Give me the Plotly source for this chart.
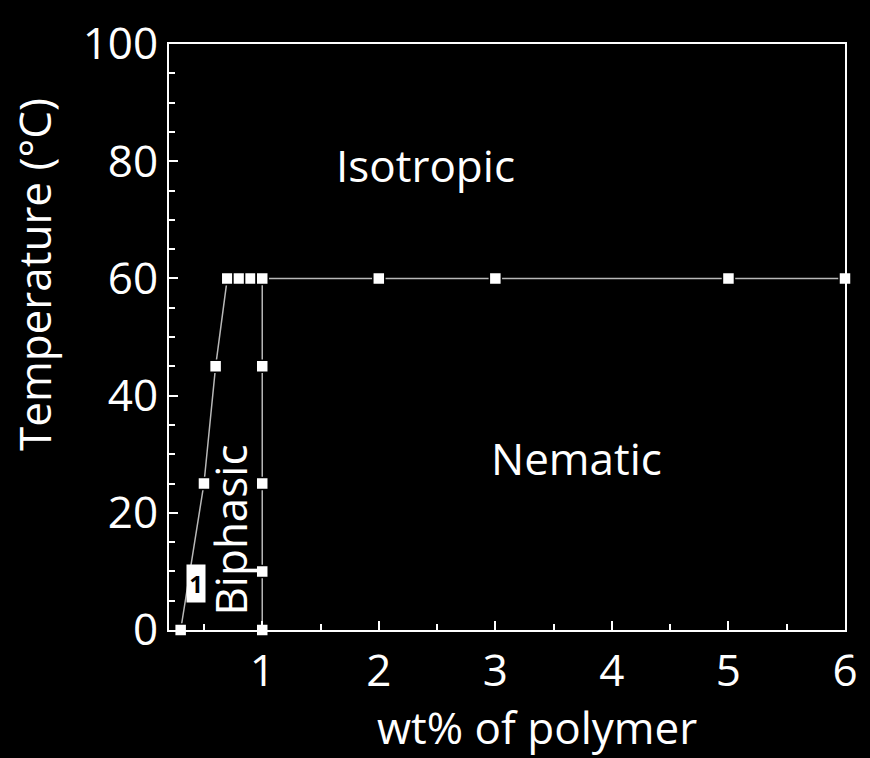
import plotly.graph_objects as go

# Phase boundary data (wt% of polymer, temperature °C)
left_x = [0.3, 0.5, 0.6, 0.7]
left_y = [0, 25, 45, 60]
top_x = [0.7, 0.8, 0.9, 1.0, 2, 3, 5, 6]
top_y = [60, 60, 60, 60, 60, 60, 60, 60]
right_x = [1, 1, 1, 1, 1]
right_y = [0, 10, 25, 45, 60]

x_ticks = [1, 2, 3, 4, 5, 6]
y_ticks = [0, 20, 40, 60, 80, 100]

FONT = "Open Sans"
FS = 44
LINE_COL = "#b8b8b8"

fig = go.Figure()
for xs, ys in [(left_x, left_y), (top_x, top_y), (right_x, right_y)]:
    fig.add_trace(go.Scatter(
        x=xs, y=ys, mode="lines+markers",
        line=dict(color=LINE_COL, width=1.5),
        marker=dict(symbol="square", size=12, color="white",
                    line=dict(color="black", width=1.5)),
        cliponaxis=False, showlegend=False, hoverinfo="skip"))

annots = [
    dict(x=2.4, y=79.3, text="Isotropic"),
    dict(x=3.70, y=29.4, text="Nematic"),
    dict(x=0.725, y=17.0, text="Biphasic", textangle=-90),
]
for a in annots:
    fig.add_annotation(xref="x", yref="y", showarrow=False,
                       xanchor="center", yanchor="middle",
                       font=dict(family=FONT, size=FS, color="white"), **a)

# small boxed label "1"
fig.add_annotation(x=0.435, y=8, xref="x", yref="y", text="<b>1</b>", showarrow=False,
                   xanchor="center", yanchor="middle",
                   font=dict(family=FONT, size=24, color="black"),
                   bgcolor="white", width=14, height=33, borderpad=2)

# axis titles
fig.add_annotation(x=33, y=272, xref="paper", yref="paper",
                   text="Temperature (°C)", textangle=-90, showarrow=False,
                   xanchor="center", yanchor="middle",
                   font=dict(family=FONT, size=FS, color="white"))
fig.add_annotation(x=541, y=728, xref="paper", yref="paper",
                   text="wt% of polymer", showarrow=False,
                   xanchor="center", yanchor="middle",
                   font=dict(family=FONT, size=FS, color="white"))

# convert the pixel positions of the axis titles to paper coordinates
L, R, T, B, W, H = 169, 17, 40, 128, 870, 758
pw, ph = W - L - R, H - T - B
for ann in fig.layout.annotations:
    if ann.xref == "paper":
        ann.x = (ann.x - L) / pw
        ann.y = (H - B - ann.y) / ph

axis_common = dict(showgrid=False, zeroline=False, showline=True,
                   linecolor="white", linewidth=2, mirror=True,
                   ticks="inside", tickcolor="white", tickwidth=1.5, ticklen=9,
                   tickfont=dict(family=FONT, size=FS, color="white"))

fig.update_xaxes(range=[0.2, 6], tickvals=x_ticks,
                 ticktext=[str(v) for v in x_ticks],
                 minor=dict(ticks="inside", dtick=0.5, tick0=0, ticklen=6,
                            tickcolor="white", tickwidth=1.5),
                 ticklabelstandoff=1, **axis_common)
fig.update_yaxes(range=[0, 100], tickvals=y_ticks,
                 ticktext=[str(v) for v in y_ticks],
                 minor=dict(ticks="inside", dtick=5, tick0=0, ticklen=6,
                            tickcolor="white", tickwidth=1.5),
                 ticklabelstandoff=0, **axis_common)

fig.update_layout(width=W, height=H,
                  margin=dict(l=L, r=R, t=T, b=B),
                  paper_bgcolor="black", plot_bgcolor="black",
                  font=dict(family=FONT, color="white"))

fig.write_html("out.html", config={"displayModeBar": False},
               post_script="document.body.style.margin='0';"
                           "document.body.style.background='black';")
